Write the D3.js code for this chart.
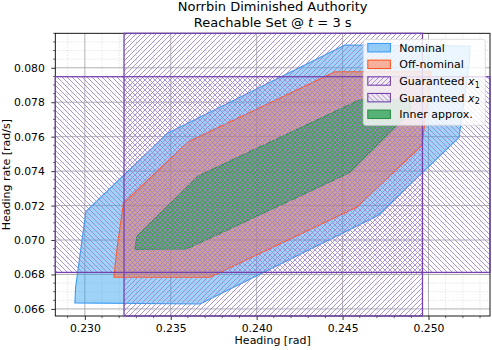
<!DOCTYPE html>
<html>
<head>
<meta charset="utf-8">
<script src="https://cdn.jsdelivr.net/npm/d3@7"></script>
<style>
  body { margin: 0; background: #fff; }
  svg { display: block; font-family: "DejaVu Sans", sans-serif; }
</style>
</head>
<body>
<div id="chart"></div>
<script>
// Tick labels
const xTicks = [0.230, 0.235, 0.240, 0.245, 0.250];
const yTicks = [0.066, 0.068, 0.070, 0.072, 0.074, 0.076, 0.078, 0.080];

// Reachable set polygons [heading, heading rate]
const nominal = [
    [0.22942, 0.06635], [0.22946, 0.06722], [0.23006, 0.07165], [0.23478, 0.07618],
    [0.24514, 0.08132], [0.25242, 0.08126], [0.25238, 0.08039], [0.25178, 0.07596],
    [0.24706, 0.07143], [0.23670, 0.06629]
];
const offNominal = [
    [0.23169, 0.06784], [0.23184, 0.06925], [0.23224, 0.07213], [0.23602, 0.07571],
    [0.24456, 0.07977], [0.25015, 0.07977], [0.25000, 0.07836], [0.24961, 0.07548],
    [0.24582, 0.07190], [0.23728, 0.06784]
];
const inner = [
    [0.23292, 0.06946], [0.23302, 0.07020], [0.23660, 0.07372], [0.24601, 0.07814],
    [0.24901, 0.07814], [0.24891, 0.07741], [0.24537, 0.07389], [0.23592, 0.06948]
];

// Guaranteed bounds
const guaranteedX1 = [0.23228, 0.24965]; // heading
const guaranteedX2 = [0.06812, 0.07948]; // heading rate

const legendLabels = ["Nominal", "Off-nominal", "Guaranteed x1", "Guaranteed x2", "Inner approx."];

const width = 492, height = 350;
const margin = { left: 55.3, right: 2, top: 33.3, bottom: 34 };

const x = d3.scaleLinear().domain([0.22828, 0.25358]).range([margin.left, width - margin.right]);
const y = d3.scaleLinear().domain([0.06559, 0.0820]).range([height - margin.bottom, margin.top]);

const purpleEdge = "#7443b0";
const purpleHatch = "#9f80cf";

const svg = d3.select("#chart")
    .append("svg")
    .attr("width", width)
    .attr("height", height);

const defs = svg.append("defs");
defs.append("clipPath").attr("id", "plot-clip")
    .append("rect")
    .attr("x", x.range()[0]).attr("y", y.range()[1])
    .attr("width", x.range()[1] - x.range()[0])
    .attr("height", y.range()[0] - y.range()[1]);

// Hatch patterns
const s = 5;
function hatch(id, forward) {
    const p = defs.append("pattern")
        .attr("id", id)
        .attr("patternUnits", "userSpaceOnUse")
        .attr("width", s).attr("height", s);
    const d = forward
        ? `M-1,1 l2,-2 M0,${s} l${s},${-s} M${s - 1},${s + 1} l2,-2`
        : `M-1,${s - 1} l2,2 M0,0 l${s},${s} M${s - 1},-1 l2,2`;
    p.append("path").attr("d", d)
        .attr("stroke", purpleHatch).attr("stroke-width", 0.85).attr("fill", "none");
}
hatch("hatch-fwd", true);
hatch("hatch-back", false);

// Grid
const xMinor = d3.range(229, 254).map(v => v / 1000);
const yMinor = d3.range(132, 165).map(v => v / 2000);
const grid = svg.append("g").attr("clip-path", "url(#plot-clip)");

grid.selectAll(".vminor").data(xMinor.filter(v => !xTicks.some(t => Math.abs(t - v) < 1e-9)))
    .enter().append("line")
    .attr("x1", d => x(d)).attr("x2", d => x(d))
    .attr("y1", y.range()[0]).attr("y2", y.range()[1])
    .attr("stroke", "#c8c8c8").attr("stroke-width", 0.6).attr("stroke-dasharray", "1,1.6");
grid.selectAll(".hminor").data(yMinor.filter(v => !yTicks.some(t => Math.abs(t - v) < 1e-9)))
    .enter().append("line")
    .attr("x1", x.range()[0]).attr("x2", x.range()[1])
    .attr("y1", d => y(d)).attr("y2", d => y(d))
    .attr("stroke", "#c8c8c8").attr("stroke-width", 0.6).attr("stroke-dasharray", "1,1.6");
grid.selectAll(".vmajor").data(xTicks)
    .enter().append("line")
    .attr("x1", d => x(d)).attr("x2", d => x(d))
    .attr("y1", y.range()[0]).attr("y2", y.range()[1])
    .attr("stroke", "#a8a8a8").attr("stroke-width", 0.9);
grid.selectAll(".hmajor").data(yTicks)
    .enter().append("line")
    .attr("x1", x.range()[0]).attr("x2", x.range()[1])
    .attr("y1", d => y(d)).attr("y2", d => y(d))
    .attr("stroke", "#a8a8a8").attr("stroke-width", 0.9);

// Reachable sets
const plot = svg.append("g").attr("clip-path", "url(#plot-clip)");
const line = d3.line().x(d => x(d[0])).y(d => y(d[1]));

const sets = [
    { pts: nominal, fill: "#2b9ef0", fo: 0.45, stroke: "#3a9cf2" },
    { pts: offNominal, fill: "#ff6e3a", fo: 0.5, stroke: "#ff5a26" },
    { pts: inner, fill: "#27a050", fo: 0.75, stroke: "#2f8f45" }
];
plot.selectAll(".set").data(sets)
    .enter().append("path")
    .attr("d", d => line(d.pts) + "Z")
    .attr("fill", d => d.fill).attr("fill-opacity", d => d.fo)
    .attr("stroke", d => d.stroke).attr("stroke-width", 1.1).attr("stroke-linejoin", "round");

// Guaranteed bands (hatched)
const x1Band = {
    x: x(guaranteedX1[0]), y: y.range()[1],
    w: x(guaranteedX1[1]) - x(guaranteedX1[0]), h: y.range()[0] - y.range()[1], pat: "hatch-fwd"
};
const x2Band = {
    x: x.range()[0], y: y(guaranteedX2[1]),
    w: x.range()[1] - x.range()[0], h: y(guaranteedX2[0]) - y(guaranteedX2[1]), pat: "hatch-back"
};
plot.selectAll(".band").data([x1Band, x2Band])
    .enter().append("rect")
    .attr("x", d => d.x).attr("y", d => d.y)
    .attr("width", d => d.w).attr("height", d => d.h)
    .attr("fill", d => `url(#${d.pat})`);

// Axes
const fmt = d3.format(".3f");
const xAxis = svg.append("g")
    .attr("transform", `translate(0,${y.range()[0]})`)
    .call(d3.axisBottom(x).tickValues(xTicks).tickFormat(fmt).tickSize(4).tickPadding(4));
const yAxis = svg.append("g")
    .attr("transform", `translate(${x.range()[0]},0)`)
    .call(d3.axisLeft(y).tickValues(yTicks).tickFormat(fmt).tickSize(4).tickPadding(6.5));

[xAxis, yAxis].forEach(a => {
    a.select(".domain").remove();
    a.selectAll("text").attr("font-size", 10.8).attr("font-family", "DejaVu Sans").attr("fill", "#000");
    a.selectAll("line").attr("stroke", "#000").attr("stroke-width", 0.8);
});

svg.append("g").selectAll("line").data(xMinor.filter(v => !xTicks.some(t => Math.abs(t - v) < 1e-9)))
    .enter().append("line")
    .attr("x1", d => x(d)).attr("x2", d => x(d))
    .attr("y1", y.range()[0]).attr("y2", y.range()[0] + 2.2)
    .attr("stroke", "#000").attr("stroke-width", 0.6);
svg.append("g").selectAll("line").data(yMinor.filter(v => !yTicks.some(t => Math.abs(t - v) < 1e-9)))
    .enter().append("line")
    .attr("x1", x.range()[0]).attr("x2", x.range()[0] - 2.2)
    .attr("y1", d => y(d)).attr("y2", d => y(d))
    .attr("stroke", "#000").attr("stroke-width", 0.6);

// Spines
svg.append("rect")
    .attr("x", x.range()[0]).attr("y", y.range()[1])
    .attr("width", x.range()[1] - x.range()[0])
    .attr("height", y.range()[0] - y.range()[1])
    .attr("fill", "none").attr("stroke", "#000").attr("stroke-width", 0.9);

// Band edges
svg.selectAll(".band-edge").data([x1Band, x2Band])
    .enter().append("rect")
    .attr("x", d => d.x).attr("y", d => d.y)
    .attr("width", d => d.w).attr("height", d => d.h)
    .attr("fill", "none").attr("stroke", purpleEdge).attr("stroke-width", 1.3);

// Axis labels
svg.append("text")
    .attr("x", (x.range()[0] + x.range()[1]) / 2).attr("y", 344.3)
    .attr("text-anchor", "middle").attr("font-size", 11).text("Heading [rad]");
svg.append("text")
    .attr("transform", `translate(9.5,${(y.range()[0] + y.range()[1]) / 2}) rotate(-90)`)
    .attr("text-anchor", "middle").attr("font-size", 11).text("Heading rate [rad/s]");

// Title
const cx = (x.range()[0] + x.range()[1]) / 2;
svg.append("text")
    .attr("x", cx).attr("y", 11.2)
    .attr("text-anchor", "middle").attr("font-size", 13)
    .text("Norrbin Diminished Authority");
const t2 = svg.append("text")
    .attr("x", cx).attr("y", 26.6)
    .attr("text-anchor", "middle").attr("font-size", 13);
t2.append("tspan").text("Reachable Set @ ");
t2.append("tspan").attr("font-style", "italic").text("t");
t2.append("tspan").text(" = 3 s");

// Legend
const legend = svg.append("g");
legend.append("rect")
    .attr("x", 363.3).attr("y", 39.3).attr("width", 122).attr("height", 86)
    .attr("rx", 2.5)
    .attr("fill", "#fff").attr("fill-opacity", 0.8)
    .attr("stroke", "#d4d4d4").attr("stroke-width", 0.8);

const legendStyle = [
    { fill: sets[0].fill, fo: sets[0].fo, stroke: sets[0].stroke },
    { fill: sets[1].fill, fo: sets[1].fo, stroke: sets[1].stroke },
    { fill: "url(#hatch-fwd)", fo: 1, stroke: purpleEdge },
    { fill: "url(#hatch-back)", fo: 1, stroke: purpleEdge },
    { fill: sets[2].fill, fo: sets[2].fo, stroke: sets[2].stroke }
];

const item = legend.selectAll(".item").data(legendLabels)
    .enter().append("g")
    .attr("transform", (d, i) => `translate(0,${47.7 + i * 16.65})`);

item.append("rect")
    .attr("x", 367.8).attr("y", -4.2).attr("width", 22.6).attr("height", 8.4)
    .attr("fill", (d, i) => legendStyle[i].fill)
    .attr("fill-opacity", (d, i) => legendStyle[i].fo)
    .attr("stroke", (d, i) => legendStyle[i].stroke)
    .attr("stroke-width", 1.1);

item.each(function (d) {
    const t = d3.select(this).append("text")
        .attr("x", 399.3).attr("y", 4).attr("font-size", 11);
    const m = d.match(/^(Guaranteed )x(\d)$/);
    if (m) {
        t.append("tspan").text(m[1]);
        t.append("tspan").attr("font-style", "italic").text("x");
        t.append("tspan").attr("font-size", 8).attr("dy", 2.6).text(m[2]);
    } else {
        t.text(d);
    }
});
</script>
</body>
</html>
